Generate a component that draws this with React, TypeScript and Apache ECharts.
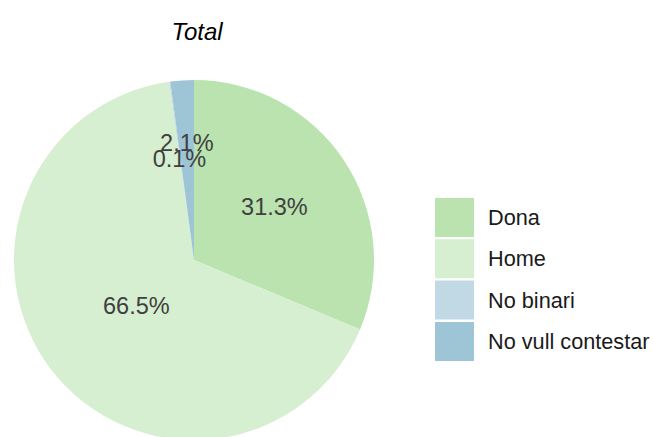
import React, { useEffect, useRef } from "react";
import * as echarts from "echarts";

const categories = ["Dona", "Home", "No binari", "No vull contestar"];
const values = [31.3, 66.5, 0.1, 2.1];
const colors = ["#bae3b0", "#d5efd0", "#c0d9e5", "#9dc5d6"];
const labelOffsets = [[3, -1], [16, -11], [-2, -9], [-1, -24]];

export default function App() {
  const ref = useRef<HTMLDivElement>(null);
  useEffect(() => {
    const chart = echarts.init(ref.current!, null, { renderer: "svg" });
    const font = "'Liberation Sans', Arial, sans-serif";
    chart.setOption({
      animation: false,
      title: {
        text: "Total",
        left: 192,
        top: 14,
        textAlign: "center",
        textStyle: { fontFamily: font, fontStyle: "italic", fontWeight: "normal", fontSize: 24, color: "#000" },
      },
      legend: {
        orient: "vertical",
        left: 435,
        top: 198,
        padding: 0,
        itemWidth: 39,
        itemHeight: 39,
        itemGap: 2.3,
        icon: "rect",
        data: categories,
        textStyle: { fontFamily: font, fontSize: 21.7, color: "#1a1a1a", padding: [0, 0, 0, 9] },
      },
      series: [
        {
          type: "pie",
          center: [194, 260],
          radius: 180,
          startAngle: 90,
          clockwise: true,
          avoidLabelOverlap: false,
          labelLayout: { hideOverlap: false },
          labelLine: { show: false },
          data: categories.map((name, i) => ({
            name,
            value: values[i],
            itemStyle: { color: colors[i] },
            label: { offset: labelOffsets[i] },
          })),
          label: {
            show: true,
            position: "inside",
            formatter: (p: any) => p.value.toFixed(1) + "%",
            fontFamily: font,
            fontSize: 23.5,
            color: "#404040",
          },
          emphasis: { disabled: true },
        },
      ],
    });
    return () => chart.dispose();
  }, []);
  return <div ref={ref} style={{ width: 653, height: 437, position: "absolute", left: 0, top: 0 }} />;
}
